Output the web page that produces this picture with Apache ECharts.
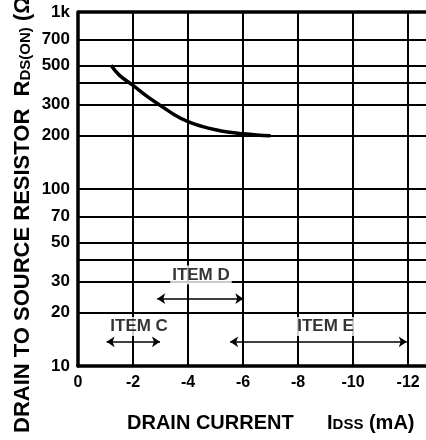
<!DOCTYPE html>
<html>
<head>
<meta charset="utf-8">
<script src="https://cdn.jsdelivr.net/npm/echarts/dist/echarts.min.js"></script>
<style>
  html, body { margin: 0; padding: 0; background: #fff; }
  #chart { width: 426px; height: 440px; }
</style>
</head>
<body>
<div id="chart"></div>
<script>
// 横轴：漏极电流 Idss (mA)，数值为负
const xTicks = [0, -2, -4, -6, -8, -10, -12]
// 纵轴网格线与刻度标签 (对数轴)
const yGrid = [10, 20, 30, 40, 50, 70, 100, 200, 300, 400, 500, 700, 1000]
const yLabels = [10, 20, 30, 50, 70, 100, 200, 300, 500, 700, 1000]

// 曲线 Rds(on) - Idss
const curveX = [-1.2, -1.5, -2.0, -2.5, -3.0, -3.5, -4.0, -4.5, -5.0, -5.5, -6.0, -6.5, -7.0]
const curveY = [500, 440, 385, 335, 296, 263, 240, 226, 216, 209, 205, 202, 200]

// ITEM 范围箭头
const itemNames = ['ITEM C', 'ITEM D', 'ITEM E']
const itemFrom = [-1.04, -2.88, -5.53]
const itemTo = [-2.98, -6.01, -11.95]
const itemArrowY = [13.7, 24, 13.7]
// 文字位置
const itemTextX = [-2.22, -4.47, -9.0]
const itemTextY = [16.7, 32.7, 16.7]

const font = '"Liberation Sans", Arial, Helvetica, sans-serif'
const black = '#000'

// 量文字长度，用来拼接标题
const ctx = document.createElement('canvas').getContext('2d')
function textWidth(text, f) {
  ctx.font = f
  return ctx.measureText(text).width
}
const bigFont = 'bold 22px ' + font
const subFont = 'bold 15px ' + font
const t1 = 'DRAIN TO SOURCE RESISTOR  R'
const t2 = 'DS(ON)'
const t3 = ' (Ω)'
const y1 = 433
const y2 = y1 - textWidth(t1, bigFont)
const y3 = y2 - textWidth(t2, subFont)

const xFont = 'bold 20px ' + font
const xSub = 'bold 15px ' + font
const i1 = 'I'
const i2 = 'DSS'
const i3 = ' (mA)'
const x1 = 327
const x2 = x1 + textWidth(i1, xFont)
const x3 = x2 + textWidth(i2, xSub)

const chart = echarts.init(document.getElementById('chart'))

chart.setOption({
  animation: false,
  backgroundColor: '#fff',
  grid: { left: 78, top: 12, bottom: 74, right: 0, outerBoundsMode: 'none' },
  xAxis: {
    type: 'value',
    min: -12.65,
    max: 0,
    inverse: true,
    axisLine: { onZero: false, lineStyle: { color: black, width: 3.5 } },
    axisTick: { show: false, customValues: xTicks },
    axisLabel: {
      customValues: xTicks,
      margin: 9,
      color: black,
      fontSize: 16,
      fontWeight: 'bold',
      fontFamily: font
    },
    splitLine: { show: true, lineStyle: { color: black, width: 2 } }
  },
  yAxis: {
    type: 'log',
    min: 10,
    max: 1000,
    axisLine: { show: true, lineStyle: { color: black, width: 3.5 } },
    axisTick: { show: false, customValues: yGrid },
    axisLabel: {
      customValues: yLabels,
      margin: 8,
      color: black,
      fontSize: 17,
      fontWeight: 'bold',
      fontFamily: font,
      formatter: (v) => (v === 1000 ? '1k' : String(v))
    },
    splitLine: { show: true, lineStyle: { color: black, width: 2 } }
  },
  series: [
    {
      type: 'line',
      data: curveX.map((x, i) => [x, curveY[i]]),
      smooth: 0.4,
      symbol: 'none',
      lineStyle: { color: black, width: 3.5 },
      z: 5,
      // 顶部粗边框
      markLine: {
        silent: true,
        symbol: 'none',
        label: { show: false },
        lineStyle: { color: black, width: 3.5, type: 'solid' },
        data: [{ yAxis: 1000 }]
      }
    },
    {
      type: 'scatter',
      symbolSize: 0,
      data: itemNames.map((n, i) => ({ name: n, value: [itemTextX[i], itemTextY[i]] })),
      label: {
        show: true,
        position: 'inside',
        formatter: '{b}',
        color: black,
        fontSize: 17,
        fontWeight: 'bold',
        fontFamily: font,
        backgroundColor: '#fff',
        padding: [1, 2]
      },
      markLine: {
        silent: true,
        symbol: ['arrow', 'arrow'],
        symbolSize: 8,
        label: { show: false },
        lineStyle: { color: black, width: 1.5, type: 'solid' },
        data: itemNames.map((n, i) => [
          { coord: [itemFrom[i], itemArrowY[i]] },
          { coord: [itemTo[i], itemArrowY[i]] }
        ])
      }
    }
  ],
  graphic: [
    // 纵轴标题
    { type: 'text', x: 23, y: y1, rotation: Math.PI / 2,
      style: { text: t1, font: bigFont, fill: black, align: 'left', verticalAlign: 'middle' } },
    { type: 'text', x: 26, y: y2, rotation: Math.PI / 2,
      style: { text: t2, font: subFont, fill: black, align: 'left', verticalAlign: 'middle' } },
    { type: 'text', x: 23, y: y3, rotation: Math.PI / 2,
      style: { text: t3, font: bigFont, fill: black, align: 'left', verticalAlign: 'middle' } },
    // 横轴标题
    { type: 'text', x: 127, y: 423,
      style: { text: 'DRAIN CURRENT', font: xFont, fill: black, verticalAlign: 'middle' } },
    { type: 'text', x: x1, y: 423,
      style: { text: i1, font: xFont, fill: black, verticalAlign: 'middle' } },
    { type: 'text', x: x2, y: 425,
      style: { text: i2, font: xSub, fill: black, verticalAlign: 'middle' } },
    { type: 'text', x: x3, y: 423,
      style: { text: i3, font: xFont, fill: black, verticalAlign: 'middle' } }
  ]
})
</script>
</body>
</html>
